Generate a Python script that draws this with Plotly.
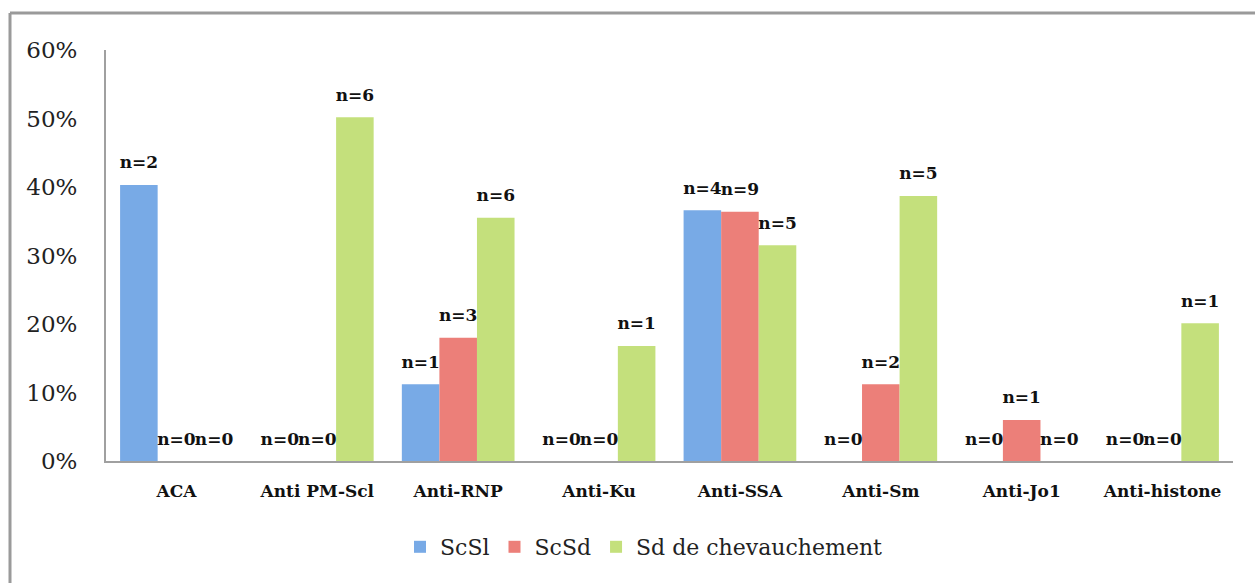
import plotly.graph_objects as go

categories = ["ACA", "Anti PM-Scl", "Anti-RNP", "Anti-Ku", "Anti-SSA", "Anti-Sm", "Anti-Jo1", "Anti-histone"]
series_names = ["ScSl", "ScSd", "Sd de chevauchement"]
scsl_values = [0.403, 0.0, 0.112, 0.0, 0.366, 0.0, 0.0, 0.0]
scsd_values = [0.0, 0.0, 0.180, 0.0, 0.364, 0.112, 0.060, 0.0]
sdc_values = [0.0, 0.502, 0.355, 0.168, 0.315, 0.387, 0.0, 0.201]
scsl_n = [2, 0, 1, 0, 4, 0, 0, 0]
scsd_n = [0, 0, 3, 0, 9, 2, 1, 0]
sdc_n = [0, 6, 6, 1, 5, 5, 0, 1]
y_ticks = [0, 0.1, 0.2, 0.3, 0.4, 0.5, 0.6]

colors = ["#78aae6", "#ec7f79", "#c4e07c"]
label_font = dict(family="DejaVu Serif", size=17, color="#111111")

fig = go.Figure()
for i, (name, vals, col) in enumerate(zip(series_names, [scsl_values, scsd_values, sdc_values], colors)):
    fig.add_trace(go.Bar(
        name=name, x=categories, y=vals, offsetgroup=str(i),
        marker=dict(color=col, line=dict(width=0)),
        hoverinfo="skip",
    ))
for i, (vals, ns) in enumerate(zip([scsl_values, scsd_values, sdc_values], [scsl_n, scsd_n, sdc_n])):
    fig.add_trace(go.Scatter(
        x=categories, y=vals, offsetgroup=str(i), mode="markers+text",
        text=[f"<b>n={n}</b>" for n in ns], textposition="top center",
        textfont=label_font, marker=dict(size=18, opacity=0),
        cliponaxis=False, showlegend=False, hoverinfo="skip",
    ))

W, H = 1255, 583
L, R, T, B = 106, 22, 50, 122
pw, ph = W - L - R, H - T - B

def px_x(p):
    return (p - L) / pw

def px_y(p):
    return (H - B - p) / ph

fig.update_layout(
    width=W, height=H,
    margin=dict(l=L, r=R, t=T, b=B),
    paper_bgcolor="white", plot_bgcolor="white",
    barmode="group", bargap=0.2, bargroupgap=0.0,
    scattermode="group", scattergap=0.2,
    font=dict(family="DejaVu Serif", color="#222222"),
    showlegend=True,
    legend=dict(orientation="h", x=px_x(644), xanchor="center", y=px_y(547), yanchor="middle",
                font=dict(family="DejaVu Serif", size=22, color="#222222"),
                itemsizing="constant", bgcolor="rgba(0,0,0,0)"),
    xaxis=dict(showline=True, linecolor="#a0a0a0", linewidth=2, showgrid=False,
               ticks="", tickfont=dict(family="DejaVu Serif", size=17, color="#111111"),
               ticklabelstandoff=14, tickprefix="<b>", ticksuffix="</b>"),
    yaxis=dict(range=[0, 0.6], tickvals=y_ticks, tickformat=".0%", showline=True,
               linecolor="#a0a0a0", linewidth=2, showgrid=False, zeroline=False, ticks="",
               tickfont=dict(family="DejaVu Serif", size=23, color="#222222"),
               ticklabelstandoff=22),
    shapes=[
        dict(type="line", xref="paper", yref="paper", x0=px_x(10), x1=px_x(10),
             y0=px_y(590), y1=px_y(13), line=dict(color="#9a9a9a", width=3)),
        dict(type="line", xref="paper", yref="paper", x0=px_x(10), x1=px_x(1270),
             y0=px_y(13), y1=px_y(13), line=dict(color="#9a9a9a", width=3)),
    ],
)

fig.write_html("out.html")
